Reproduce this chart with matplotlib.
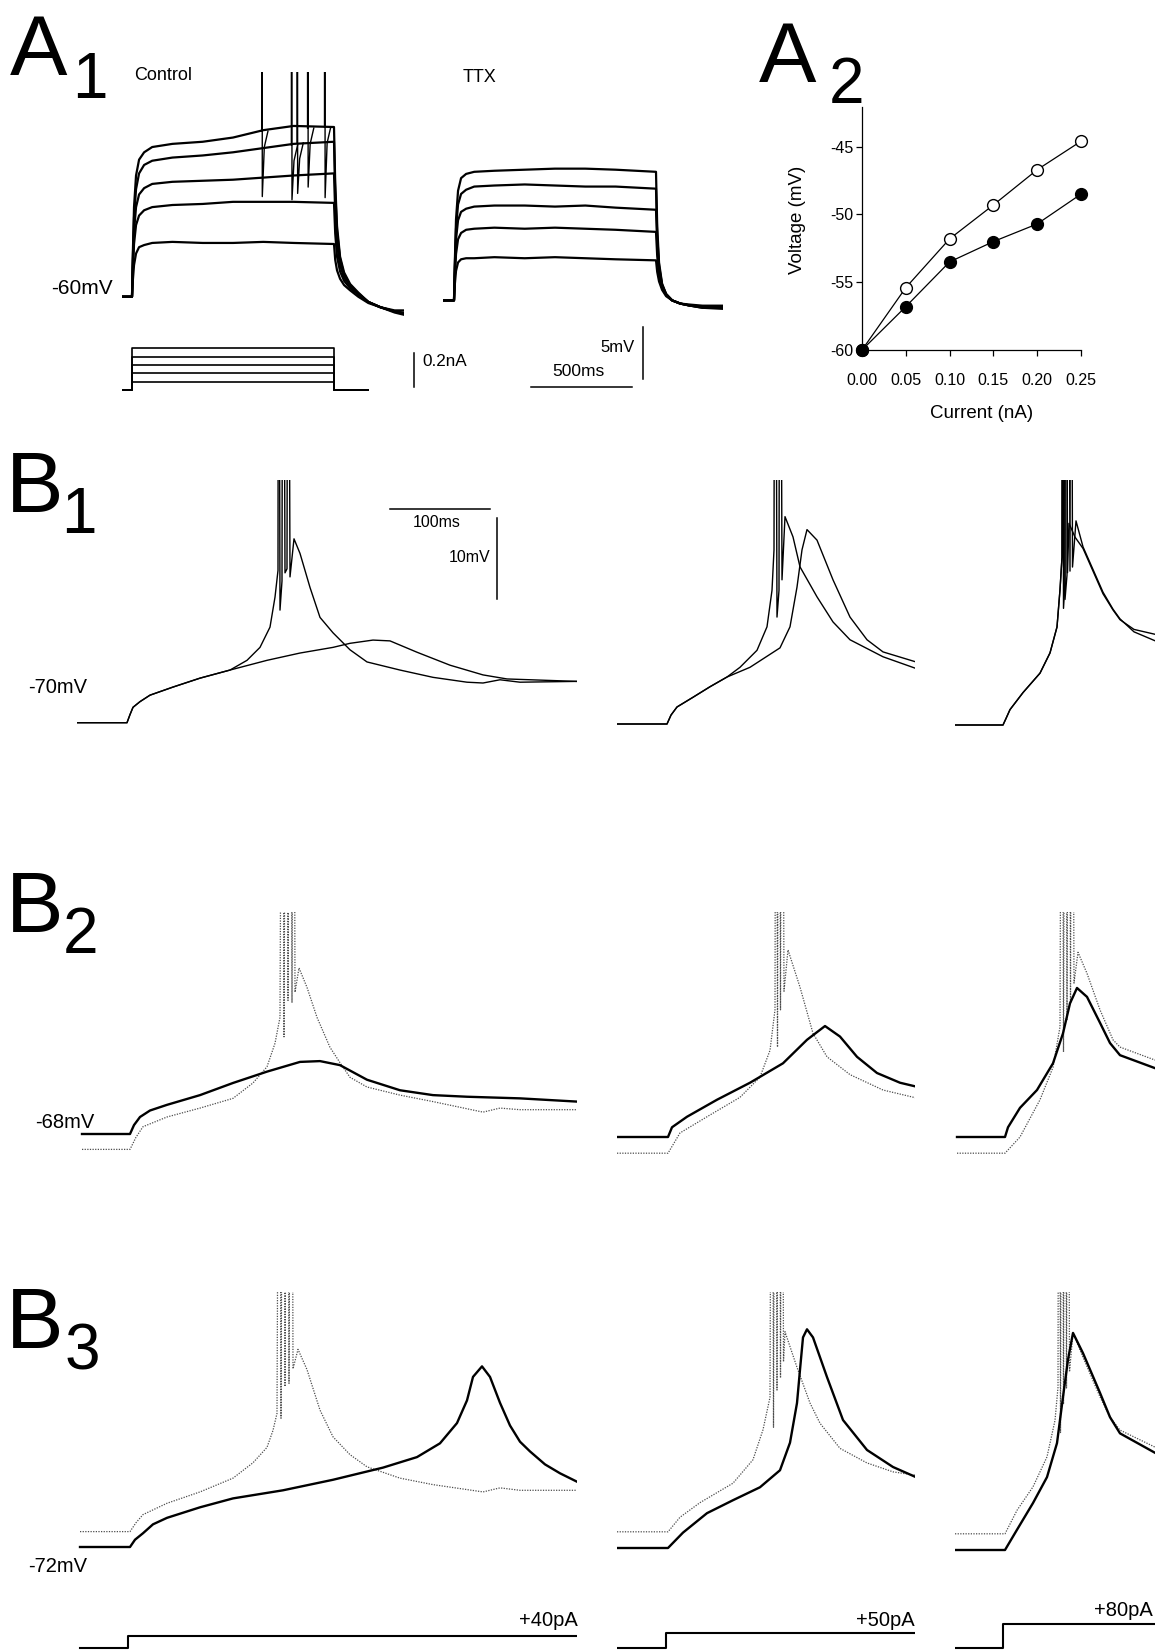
import matplotlib
matplotlib.use("Agg")
import matplotlib.pyplot as plt
from matplotlib.ticker import FormatStrFormatter

plt.rcParams["font.family"] = ["Liberation Sans", "DejaVu Sans"]
plt.rcParams["axes.unicode_minus"] = False

# ---------------- A1: voltage responses to current steps (ms, mV) ----------------
t_ctrl = [-46, 0, 4, 10, 20, 35, 60, 100, 200, 350, 500, 650, 800, 1000,
          1006, 1015, 1030, 1050, 1080, 1120, 1170, 1230, 1300, 1343]
ctrl_005 = [-60.0, -60.0, -58.5, -57.0, -55.9, -55.3, -55.1, -54.9, -54.8, -54.9, -54.9, -54.8, -54.9, -55.0,
            -56.5, -57.5, -58.3, -58.9, -59.4, -60.0, -60.6, -61.0, -61.3, -61.3]
ctrl_010 = [-60.0, -60.0, -57.6, -55.0, -53.2, -52.3, -51.8, -51.5, -51.3, -51.2, -51.0, -51.0, -51.0, -51.1,
            -54.0, -56.2, -57.6, -58.5, -59.2, -59.8, -60.5, -61.0, -61.4, -61.5]
ctrl_015 = [-60.0, -60.0, -57.0, -53.8, -51.5, -50.3, -49.7, -49.3, -49.1, -49.0, -48.9, -48.7, -48.5, -48.3,
            -52.0, -55.0, -57.0, -58.2, -59.0, -59.7, -60.5, -61.0, -61.4, -61.6]
ctrl_020 = [-60.0, -60.0, -56.5, -52.5, -49.8, -48.3, -47.5, -47.1, -46.8, -46.6, -46.3, -45.9, -45.5, -45.3,
            -50.0, -53.8, -56.4, -57.9, -58.9, -59.7, -60.5, -61.0, -61.4, -61.6]
ctrl_025 = [-60.0, -60.0, -56.0, -51.5, -48.5, -47.0, -46.3, -45.8, -45.5, -45.3, -44.9, -44.2, -43.8, -43.9,
            -49.2, -53.3, -56.2, -57.7, -58.8, -59.6, -60.5, -61.0, -61.5, -61.7]

# action potentials riding on the control traces (time, level before, trough after)
ctrl_spike_t = [643, 790, 818, 870, 954]
ctrl_spike_from = [-44.3, -45.6, -45.4, -44.0, -43.9]
ctrl_spike_ahp = [-50.5, -50.8, -50.2, -49.6, -50.6]

t_ttx = [-54, 0, 4, 10, 20, 35, 60, 100, 200, 350, 500, 650, 800, 1000,
         1006, 1015, 1030, 1050, 1080, 1120, 1170, 1230, 1330]
ttx_005 = [-60.0, -60.0, -58.5, -57.2, -56.4, -56.1, -56.0, -56.0, -55.9, -56.0, -55.9, -56.0, -56.1, -56.2,
           -57.3, -58.2, -59.0, -59.6, -60.0, -60.3, -60.4, -60.5, -60.5]
ttx_010 = [-60.0, -60.0, -57.8, -55.6, -54.2, -53.6, -53.3, -53.2, -53.1, -53.2, -53.1, -53.2, -53.3, -53.5,
           -55.8, -57.6, -58.8, -59.5, -60.0, -60.3, -60.5, -60.6, -60.6]
ttx_015 = [-60.0, -60.0, -57.2, -54.2, -52.4, -51.6, -51.3, -51.1, -51.0, -51.0, -51.1, -51.0, -51.2, -51.4,
           -54.6, -57.0, -58.6, -59.4, -60.0, -60.3, -60.5, -60.6, -60.6]
ttx_020 = [-60.0, -60.0, -56.8, -53.2, -50.9, -49.9, -49.5, -49.2, -49.1, -49.0, -49.1, -49.2, -49.2, -49.4,
           -53.8, -56.7, -58.5, -59.4, -60.0, -60.3, -60.5, -60.7, -60.7]
ttx_025 = [-60.0, -60.0, -56.4, -52.3, -49.6, -48.4, -48.0, -47.8, -47.7, -47.6, -47.5, -47.5, -47.6, -47.8,
           -53.0, -56.4, -58.4, -59.4, -60.0, -60.3, -60.5, -60.7, -60.8]

# injected current steps (nA)
t_step = [-49, 0, 1000, 1168]
step_levels_na = [0.05, 0.10, 0.15, 0.20, 0.25]

# ---------------- A2: I-V relation ----------------
current_na = [0.00, 0.05, 0.10, 0.15, 0.20, 0.25]
v_control = [-60.0, -55.4, -51.8, -49.3, -46.7, -44.6]
v_ttx = [-60.0, -56.8, -53.5, -52.0, -50.7, -48.5]

# ---------------- B: (ms, mV) pairs ----------------
b1_c1_spk = [(-50, -70.0), (0, -70.0), (3, -69.0), (6, -68.1), (13, -67.4), (23, -66.6), (46, -65.6),
             (73, -64.5), (103, -63.5), (120, -62.3), (133, -60.7), (143, -58.2), (148, -54.5), (151, -51.2),
             (151.5, 20), (153, -56.1), (155, -52.5), (156, 20), (158, -51.5), (160, -51.0), (161, 20),
             (163, -52.0), (167, -47.3), (173, -49.1), (183, -53.3), (193, -57.0), (206, -58.9), (223, -61.0),
             (240, -62.5), (273, -63.5), (306, -64.4), (340, -65.0), (356, -65.1), (373, -64.7), (393, -65.0),
             (450, -64.9)]
b1_c1_sub = [(-50, -70.0), (0, -70.0), (3, -69.0), (6, -68.1), (13, -67.4), (23, -66.6), (46, -65.6),
             (73, -64.5), (103, -63.5), (140, -62.3), (173, -61.4), (206, -60.7), (223, -60.2), (246, -59.8),
             (263, -59.9), (290, -61.3), (323, -62.9), (356, -64.1), (380, -64.6), (450, -64.9)]
b1_c2_a = [(-50, -70.0), (0, -70.0), (4, -68.9), (10, -67.9), (26, -66.7), (43, -65.4), (60, -64.2),
           (73, -63.0), (90, -60.9), (100, -58.0), (105, -53.5), (107, -48.5), (108, 20), (110, -56.8),
           (112, -53.5), (113, 20), (115, -52.2), (118, -44.4), (126, -46.9), (133, -50.6), (150, -54.3),
           (166, -57.4), (183, -59.6), (216, -61.7), (248, -63.1)]
b1_c2_b = [(-50, -70.0), (0, -70.0), (4, -68.9), (10, -67.9), (26, -66.7), (43, -65.4), (60, -64.2),
           (83, -63.0), (113, -60.6), (123, -58.0), (130, -53.1), (135, -48.5), (140, -46.0), (150, -47.3),
           (166, -52.2), (183, -56.8), (200, -59.6), (216, -61.1), (248, -62.3)]
b1_c3_a = [(-48, -70.0), (0, -70.0), (3, -69.2), (7, -68.1), (20, -66.0), (37, -63.6), (47, -61.1),
           (54, -57.9), (57, -53.3), (59, -49.3), (59.5, 20), (60.5, -55.6), (62, -52.5), (63, 20),
           (64.5, -51.2), (66, -45.1), (72, -46.8), (80, -48.2), (90, -51.0), (100, -53.8), (110, -55.8),
           (117, -57.0), (131, -58.2), (152, -58.8)]
b1_c3_b = [(-48, -70.0), (0, -70.0), (3, -69.2), (7, -68.1), (20, -66.0), (37, -63.6), (47, -61.1),
           (54, -57.9), (57, -53.3), (59, -49.3), (60.5, 20), (62, -54.5), (64, -51.5), (65, 20), (67, -51.0),
           (68, 20), (69.5, -50.5), (73, -44.8), (80, -48.0), (90, -50.8), (100, -53.6), (110, -55.7),
           (117, -56.9), (131, -58.5), (152, -59.6)]

b2_c1_thick = [(-48, -68.0), (0, -68.0), (4, -66.9), (10, -65.9), (20, -65.1), (37, -64.4), (70, -63.2),
               (103, -61.7), (137, -60.3), (170, -59.1), (190, -59.0), (210, -59.5), (237, -61.3),
               (270, -62.6), (303, -63.2), (337, -63.4), (390, -63.6), (447, -64.0)]
b2_c1_thin = [(-48, -69.9), (0, -69.9), (6, -68.4), (13, -67.1), (37, -65.9), (70, -64.8), (103, -63.6),
              (123, -61.7), (137, -59.7), (145, -56.8), (150, -53.6), (152.5, 20), (154, -56.0), (156.5, 20),
              (158, -51.5), (160.5, 20), (162, -51.8), (163.5, 20), (165, -50.5), (169, -47.5), (177, -49.9),
              (187, -53.6), (200, -57.3), (210, -59.2), (220, -61.0), (237, -62.2), (270, -63.2),
              (303, -64.0), (353, -65.3), (370, -64.8), (390, -65.0), (447, -65.0)]
b2_c2_thick = [(-51, -68.0), (0, -68.0), (4, -66.8), (19, -65.5), (49, -63.4), (82, -61.3), (115, -58.9),
               (139, -56.0), (157, -54.3), (172, -55.6), (189, -58.1), (209, -60.1), (232, -61.3),
               (249, -61.8)]
b2_c2_thin = [(-51, -70.0), (0, -70.0), (12, -67.5), (39, -65.5), (72, -63.1), (92, -60.6), (102, -57.3),
              (107, -52.3), (108, 20), (109.5, -56.9), (111, 20), (112.5, -52.3), (114, 20), (116, -50.0),
              (120, -44.9), (132, -49.5), (145, -55.2), (159, -58.1), (182, -60.3), (215, -62.2),
              (249, -63.2)]
b2_c3_thick = [(-48, -68.0), (0, -68.0), (3, -66.8), (15, -64.4), (32, -62.2), (48, -58.9), (58, -55.2),
               (65, -51.5), (72, -49.6), (82, -50.7), (95, -53.9), (105, -56.4), (115, -57.9), (150, -59.5)]
b2_c3_thin = [(-48, -70.0), (0, -70.0), (15, -68.0), (35, -63.4), (48, -59.4), (55, -54.4), (57, 20),
              (58.5, -57.5), (60.5, 20), (62, -53.5), (64, 20), (65.5, -51.5), (67, 20), (69, -49.0),
              (73, -45.2), (82, -47.8), (95, -52.3), (108, -56.0), (115, -56.9), (150, -58.5)]

b3_c1_thick = [(-50, -72.0), (0, -72.0), (5, -71.1), (13, -70.3), (23, -69.2), (37, -68.4), (70, -67.1),
               (103, -66.0), (153, -65.0), (203, -63.7), (253, -62.2), (287, -60.9), (310, -59.2),
               (327, -56.7), (337, -53.9), (343, -51.0), (352, -49.7), (360, -51.0), (370, -54.2),
               (380, -57.0), (390, -59.0), (400, -60.2), (415, -61.8), (430, -62.9), (448, -64.0)]
b3_c1_thin = [(-50, -70.1), (0, -70.1), (6, -69.0), (13, -68.0), (37, -66.6), (70, -65.2), (103, -63.5),
              (123, -61.6), (137, -59.7), (143, -57.6), (147, -55.5), (149.5, 20), (151, -56.1), (153.5, 20),
              (155, -52.2), (157.5, 20), (159, -51.8), (161.5, 20), (163, -50.0), (168, -47.6), (177, -50.1),
              (190, -55.1), (203, -58.4), (220, -60.6), (237, -62.1), (270, -63.5), (303, -64.3),
              (353, -65.2), (370, -64.7), (390, -65.0), (448, -65.0)]
b3_c2_thick = [(-51, -72.0), (0, -72.0), (15, -70.1), (39, -67.7), (65, -66.1), (92, -64.5), (112, -62.4),
               (122, -59.0), (129, -54.1), (132, -50.0), (135, -46.0), (139, -45.0), (145, -46.0),
               (159, -50.9), (175, -56.2), (199, -59.9), (225, -62.0), (247, -63.2)]
b3_c2_thin = [(-51, -70.0), (0, -70.0), (12, -68.2), (32, -66.4), (65, -64.0), (85, -61.1), (95, -57.4),
              (102, -53.4), (104, 20), (105.5, -57.1), (107.5, 20), (109, -52.5), (111, 20), (112.5, -51.0),
              (114, 20), (115.5, -49.0), (117, -45.3), (129, -49.7), (142, -54.1), (152, -56.6),
              (172, -59.7), (199, -61.5), (225, -62.6), (247, -63.0)]
b3_c3_thick = [(-50, -72.0), (0, -72.0), (12, -69.5), (28, -66.2), (42, -63.0), (52, -58.8), (58, -53.1),
               (63, -48.5), (68, -45.2), (78, -47.7), (95, -52.6), (105, -55.6), (115, -57.6), (150, -60.0)]
b3_c3_thin = [(-50, -70.0), (0, -70.0), (12, -67.1), (28, -64.2), (42, -60.5), (50, -56.0), (53, -51.9),
              (54, 20), (55.5, -57.5), (57, 20), (58.5, -54.0), (60, 20), (61.5, -52.0), (63, 20),
              (64.5, -50.0), (68, -45.2), (78, -48.2), (95, -53.1), (105, -55.6), (115, -57.2), (150, -59.3)]

# current steps under B3 (pA)
b3_step_pa = [40, 50, 80]
b3_step_t = [[-48, 0, 449], [-49, 0, 249], [-48, 0, 152]]

# ---------------- figure helpers (pixel layout) ----------------
W, H = 1155, 1652
fig = plt.figure(figsize=(W / 100, H / 100), dpi=100)


def px_axes(left, right, top, bottom):
    return fig.add_axes([left / W, 1 - bottom / H, (right - left) / W, (bottom - top) / H])


def trace_axes(left, right, top, bottom, x_zero, px_per_ms, y_ref, v_ref, px_per_unit):
    """Invisible axes whose data units are ms and mV (or nA / pA)."""
    ax = px_axes(left, right, top, bottom)
    ax.set_xlim((left - x_zero) / px_per_ms, (right - x_zero) / px_per_ms)
    ax.set_ylim(v_ref - (bottom - y_ref) / px_per_unit, v_ref + (y_ref - top) / px_per_unit)
    ax.axis("off")
    return ax


def label(x, y, s, size, **kw):
    fig.text(x / W, 1 - y / H, s, fontsize=size, **kw)


def plot_pairs(ax, pts, **kw):
    t, v = zip(*pts)
    ax.plot(t, v, **kw)


solid = dict(color="black", lw=1.0)
thick = dict(color="black", lw=1.7)
dotted = dict(color="0.3", lw=0.9, ls=(0, (1.0, 1.1)))

# ---------------- A1 ----------------
ax_c = trace_axes(122, 404, 71.7, 395, 132, 0.202, 296.7, -60, 10.54)
for v in [ctrl_005, ctrl_010, ctrl_015, ctrl_020, ctrl_025]:
    ax_c.plot(t_ctrl, v, color="black", lw=1.6)
for t, v0, v1 in zip(ctrl_spike_t, ctrl_spike_from, ctrl_spike_ahp):
    ax_c.plot([t - 1, t, t + 2, t + 12, t + 30], [v0, 20, v1, v0 - 1.5, v0], color="black", lw=1.0)

ax_t = trace_axes(443, 723, 71.7, 395, 454, 0.202, 300.4, -60, 10.54)
for v in [ttx_005, ttx_010, ttx_015, ttx_020, ttx_025]:
    ax_t.plot(t_ttx, v, color="black", lw=1.6)
# 500 ms / 5 mV scale bars
ax_t.plot([381, 881], [-68.2, -68.2], color="black", lw=1.1)
ax_t.plot([936, 936], [-62.5, -67.5], color="black", lw=1.1)

ax_i = trace_axes(122, 480, 340, 395, 132, 0.202, 390, 0, 167)
for lvl in step_levels_na:
    ax_i.plot(t_step, [0, lvl, 0, 0], drawstyle="steps-post", color="black", lw=1.2)
ax_i.plot([1396, 1396], [0.02, 0.22], color="black", lw=1.1)

label(10, 75, "A", 62, va="baseline")
label(72, 98, "1", 46, va="baseline")
label(134, 75, "Control", 13, va="center")
label(463, 77, "TTX", 13, va="center")
label(113, 289, "-60mV", 15, va="center", ha="right")
label(422, 362, "0.2nA", 12.3, va="center")
label(635, 348, "5mV", 12, va="center", ha="right")
label(578, 372, "500ms", 12.5, va="center", ha="center")

# ---------------- A2 ----------------
ax2 = px_axes(862, 1081, 106.7, 350)
ax2.plot(current_na, v_control, "-o", color="black", lw=0.9, ms=8.5, mfc="white", mec="black",
         mew=1.0, clip_on=False, zorder=3)
ax2.plot(current_na, v_ttx, "-o", color="black", lw=0.9, ms=8.5, mfc="black", mec="black",
         clip_on=False, zorder=4)
ax2.set_xlim(0, 0.25)
ax2.set_ylim(-60, -42.05)
ax2.set_xticks(current_na)
ax2.set_yticks([-60, -55, -50, -45])
ax2.xaxis.set_major_formatter(FormatStrFormatter("%.2f"))
ax2.yaxis.set_major_formatter(FormatStrFormatter("%d"))
for s in ["top", "right"]:
    ax2.spines[s].set_visible(False)
for s in ["left", "bottom"]:
    ax2.spines[s].set_linewidth(0.9)
ax2.tick_params(axis="both", direction="out", length=4.3, width=0.9, labelsize=11.5)
ax2.tick_params(axis="x", pad=12)
ax2.tick_params(axis="y", pad=2)
ax2.set_xlabel("Current (nA)", fontsize=13.5)
ax2.set_ylabel("Voltage (mV)", fontsize=13.5)
ax2.xaxis.set_label_coords((982 - 862) / 219, (350 - 413) / 243.3)
ax2.xaxis.label.set_va("center")
ax2.yaxis.set_label_coords((798 - 862) / 219, (350 - 220) / 243.3)
ax2.yaxis.label.set_va("center")

label(759, 82, "A", 62, va="baseline")
label(829, 103, "2", 46, va="baseline")

# ---------------- B rows ----------------
# (left, right, x at t=0, y of reference level) for each column, per row
b1_cols = [(77, 577, 127, 722.7), (617, 915, 667, 724), (955, 1155, 1003, 725)]
b2_cols = [(77, 577, 130, 1134), (617, 915, 668, 1137), (955, 1155, 1005, 1137)]
b3_cols = [(77, 577, 130, 1547), (617, 915, 668, 1548), (955, 1155, 1005, 1550)]
i_cols = [(77, 577, 128), (617, 915, 666), (955, 1155, 1003)]

b1_traces = [(b1_c1_sub, b1_c1_spk), (b1_c2_b, b1_c2_a), (b1_c3_a, b1_c3_b)]
b2_traces = [(b2_c1_thin, b2_c1_thick), (b2_c2_thin, b2_c2_thick), (b2_c3_thin, b2_c3_thick)]
b3_traces = [(b3_c1_thin, b3_c1_thick), (b3_c2_thin, b3_c2_thick), (b3_c3_thin, b3_c3_thick)]

b1_axes = []
for (l, r, x0, yref), (tr1, tr2) in zip(b1_cols, b1_traces):
    ax = trace_axes(l, r, 480, 760, x0, 1.0, yref, -70, 8.1)
    plot_pairs(ax, tr1, **solid)
    plot_pairs(ax, tr2, **solid)
    b1_axes.append(ax)

for (l, r, x0, yref), (thin, thk) in zip(b2_cols, b2_traces):
    ax = trace_axes(l, r, 912, 1180, x0, 1.0, yref, -68, 8.1)
    plot_pairs(ax, thin, **dotted)
    plot_pairs(ax, thk, **thick)

for (l, r, x0, yref), (thin, thk) in zip(b3_cols, b3_traces):
    ax = trace_axes(l, r, 1292, 1590, x0, 1.0, yref, -72, 8.1)
    plot_pairs(ax, thin, **dotted)
    plot_pairs(ax, thk, **thick)

for (l, r, x0), amp, ts in zip(i_cols, b3_step_pa, b3_step_t):
    ax = trace_axes(l, r, 1595, 1652, x0, 1.0, 1648, 0, 0.3)
    ax.plot(ts, [0, amp, amp], drawstyle="steps-post", color="black", lw=1.5)

# 100 ms / 10 mV scale bars in B1
b1_axes[0].plot([263, 363], [-43.6, -43.6], color="black", lw=1.1)
b1_axes[0].plot([370, 370], [-44.7, -54.7], color="black", lw=1.1)

label(437, 523, "100ms", 11.5, va="center", ha="center")
label(490, 557, "10mV", 11.5, va="center", ha="right")
label(28, 687, "-70mV", 14.5, va="center")
label(35, 1123, "-68mV", 14.5, va="center")
label(28, 1567, "-72mV", 14.5, va="center")
label(578, 1621, "+40pA", 14.5, va="center", ha="right")
label(915, 1621, "+50pA", 14.5, va="center", ha="right")
label(1153, 1611, "+80pA", 14.5, va="center", ha="right")

label(6, 512, "B", 62, va="baseline")
label(61, 533, "1", 46, va="baseline")
label(6, 932, "B", 62, va="baseline")
label(63, 953, "2", 46, va="baseline")
label(6, 1348, "B", 62, va="baseline")
label(65, 1370, "3", 46, va="baseline")

fig.savefig("out.png", dpi=100)
